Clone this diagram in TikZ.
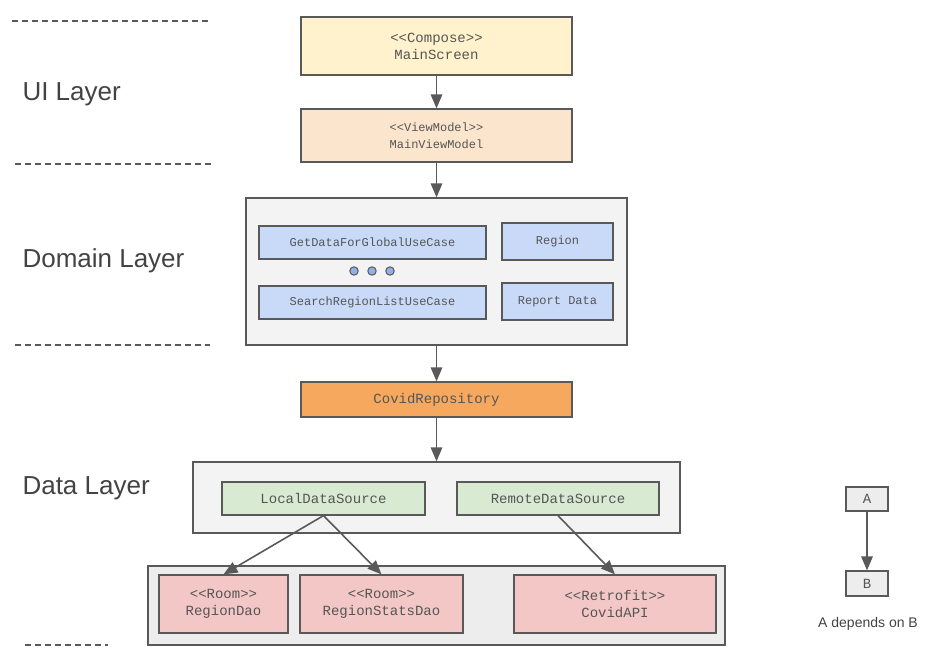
\documentclass[tikz,border=0pt]{standalone}
\usepackage{xcolor}
\usepackage{tikz}
\usepackage{fontspec}
\setmainfont{Liberation Sans}
\newfontfamily\monofont{Liberation Mono}
\usetikzlibrary{arrows.meta}
\definecolor{linegray}{HTML}{595959}
\definecolor{txtgray}{HTML}{434343}
\definecolor{boxtxt}{HTML}{555555}
\definecolor{composefill}{HTML}{FFF2CC}
\definecolor{vmfill}{HTML}{FCE5CD}
\definecolor{groupfill}{HTML}{F3F3F3}
\definecolor{lowfill}{HTML}{EDEDED}
\definecolor{domainfill}{HTML}{C9DAF8}
\definecolor{dotfill}{HTML}{93B0E6}
\definecolor{repofill}{HTML}{F6A95E}
\definecolor{srcfill}{HTML}{D9EAD3}
\definecolor{daofill}{HTML}{F4C7C7}

\begin{document}
\begin{tikzpicture}[x=1pt,y=-1pt,
  box/.style={draw=linegray,line width=1.2pt,inner sep=0pt,align=center,
    text=boxtxt,font=\monofont\fontsize{14}{17}\selectfont},
  smallbox/.style={box,font=\monofont\fontsize{12}{17}\selectfont},
  group/.style={draw=linegray,line width=1.2pt,inner sep=0pt,fill=groupfill},
  dep/.style={draw=linegray,line width=1.6pt,-{Triangle[length=14pt,width=11.5pt]}},
  layer/.style={anchor=west,text=txtgray,font=\fontsize{26}{30}\selectfont},
  sep/.style={draw=linegray,line width=1.2pt,dash pattern=on 6pt off 4pt}]
  \useasboundingbox (0,0) rectangle (946,669);

  % layer separators
  \draw[sep] (12,21) -- (210,21);
  \draw[sep] (15,164) -- (212,164);
  \draw[sep] (15,345) -- (210,345);
  \draw[sep] (25,645) -- (108,645);
  \node[layer] (uilabel) at (19,94) {UI Layer};
  \node[layer] (domainlabel) at (19,261) {Domain Layer};
  \node[layer] (datalabel) at (19,488) {Data Layer};

  % UI layer
  \node[box,fill=composefill,minimum width=271pt,minimum height=58pt] (screen) at (436.5,46) {<<Compose>>\\MainScreen};
  \node[smallbox,fill=vmfill,minimum width=271pt,minimum height=53pt] (viewmodel) at (436.5,135.5) {<<ViewModel>>\\MainViewModel};

  % domain layer
  \node[group,minimum width=381pt,minimum height=147pt] (domain) at (436.5,271.5) {};
  \node[smallbox,fill=domainfill,minimum width=227pt,minimum height=33pt] (globalcase) at (372.5,242.5) {GetDataForGlobalUseCase};
  \node[smallbox,fill=domainfill,minimum width=111pt,minimum height=37pt] (region) at (557.5,241.5) {Region};
  \node[smallbox,fill=domainfill,minimum width=227pt,minimum height=33pt] (searchcase) at (372.5,302.5) {SearchRegionListUseCase};
  \node[smallbox,fill=domainfill,minimum width=111pt,minimum height=37pt] (report) at (557.5,301.5) {Report Data};
  \foreach \dx in {354,372,390}
    \filldraw[fill=dotfill,draw=linegray,line width=1pt] (\dx,271) circle (4.2pt);

  % data layer
  \node[box,fill=repofill,minimum width=271pt,minimum height=35pt] (repo) at (436.5,399.5) {CovidRepository};
  \node[group,minimum width=487pt,minimum height=71pt] (data) at (436.5,497.5) {};
  \node[box,fill=srcfill,minimum width=203pt,minimum height=33pt] (localsrc) at (323.5,498.5) {LocalDataSource};
  \node[box,fill=srcfill,minimum width=202pt,minimum height=33pt] (remotesrc) at (558,498.5) {RemoteDataSource};
  \node[group,fill=lowfill,minimum width=577pt,minimum height=79pt] (daogroup) at (436.5,605.5) {};
  \node[box,fill=daofill,minimum width=129pt,minimum height=58pt] (regiondao) at (223.5,604) {<<Room>>\\RegionDao};
  \node[box,fill=daofill,minimum width=163pt,minimum height=58pt] (statsdao) at (381.5,604) {<<Room>>\\RegionStatsDao};
  \node[box,fill=daofill,minimum width=202pt,minimum height=58pt] (covidapi) at (615,604) {<<Retrofit>>\\CovidAPI};

  % legend
  \node[box,fill=lowfill,minimum width=42pt,minimum height=24pt] (nodeA) at (867,499) {A};
  \node[box,fill=lowfill,minimum width=42pt,minimum height=25pt] (nodeB) at (867,583.5) {B};
  \node[text=txtgray,font=\fontsize{14}{17}\selectfont] (legend) at (868,624) {A depends on B};

  % dependencies
  \draw[dep] (screen) -- (viewmodel);
  \draw[dep] (viewmodel) -- (domain);
  \draw[dep] (domain) -- (repo);
  \draw[dep] (repo) -- (data);
  \draw[dep] (localsrc.south) -- (regiondao.north);
  \draw[dep] (localsrc.south) -- (statsdao.north);
  \draw[dep] (remotesrc.south) -- (covidapi.north);
  \draw[dep] (nodeA) -- (nodeB);
\end{tikzpicture}
\end{document}
